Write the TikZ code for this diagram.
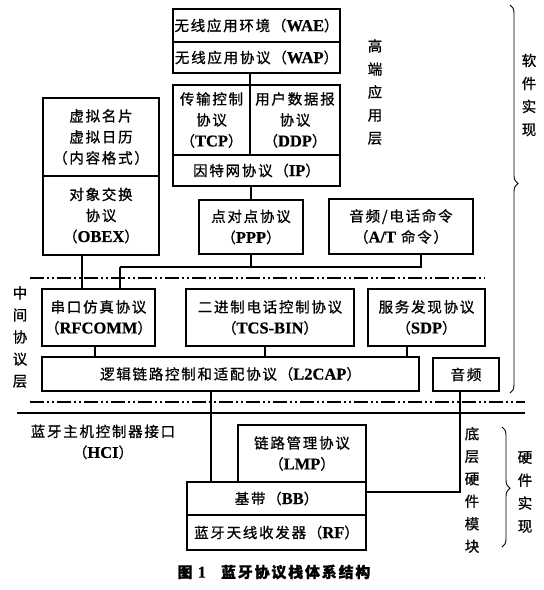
\documentclass[tikz,border=0pt]{standalone}
\usepackage{fontspec}
\setmainfont{Noto Sans CJK SC}[LetterSpace=12, FakeBold=0.8]
\newfontfamily\latfont{Liberation Serif}[FakeBold=0.6]
\newcommand{\lat}[1]{{\latfont\bfseries\fontsize{16.5}{21}\selectfont #1}}
\usetikzlibrary{decorations.pathreplacing}

\begin{document}
\begin{tikzpicture}[x=1pt, y=-1pt, line width=1.1pt,
	every node/.style={font=\fontsize{14.5}{21}\selectfont, align=center, inner sep=0pt, outer sep=0pt},
	blk/.style={draw},
	vtxt/.style={font=\fontsize{14.5}{23}\selectfont},
	sep/.style={line width=1.4pt, dash pattern=on 14pt off 3pt on 2pt off 3pt on 2pt off 3pt},
	brc/.style={decorate, decoration={brace, amplitude=8pt, aspect=#1}, line width=0.9pt}]
	\useasboundingbox (0,0) rectangle (544,590);
	% high-level application layer
	\node[blk, minimum width=167pt, minimum height=33pt] (wae) at (256.5,25.5) {无线应用环境（\lat{WAE}）};
	\node[blk, minimum width=167pt, minimum height=31pt] (wap) at (256.5,57.5) {无线应用协议（\lat{WAP}）};
	\node[blk, minimum width=77pt, minimum height=70pt] (tcp) at (211.5,120) {传输控制\\协议\\（\lat{TCP}）};
	\node[blk, minimum width=90pt, minimum height=70pt] (ddp) at (295,120) {用户数据报\\协议\\（\lat{DDP}）};
	\node[blk, minimum width=167pt, minimum height=31pt] (ip) at (256.5,170.5) {因特网协议（\lat{IP}）};
	\node[blk, minimum width=116pt, minimum height=78pt] (vcard) at (101,137) {虚拟名片\\虚拟日历\\（内容格式）};
	\node[blk, minimum width=116pt, minimum height=79pt] (obex) at (101,215.5) {对象交换\\协议\\（\lat{OBEX}）};
	\node[blk, minimum width=104pt, minimum height=54pt] (ppp) at (251,227) {点对点协议\\（\lat{PPP}）};
	\node[blk, minimum width=144pt, minimum height=55pt] (at) at (401,226.5) {音频/电话命令\\（\lat{A/T} 命令）};
	% middle protocol layer
	\node[blk, minimum width=113pt, minimum height=57pt] (rfcomm) at (98.5,317.5) {串口仿真协议\\（\lat{RFCOMM}）};
	\node[blk, minimum width=168pt, minimum height=57pt] (tcs) at (270,317.5) {二进制电话控制协议\\（\lat{TCS-BIN}）};
	\node[blk, minimum width=117pt, minimum height=57pt] (sdp) at (426.5,317.5) {服务发现协议\\（\lat{SDP}）};
	\node[blk, minimum width=377pt, minimum height=34pt] (l2cap) at (230.5,374) {逻辑链路控制和适配协议（\lat{L2CAP}）};
	\node[blk, minimum width=66pt, minimum height=33pt] (audio) at (466,374.5) {音频};
	% hardware
	\node[blk, minimum width=128pt, minimum height=57pt] (lmp) at (302,453.5) {链路管理协议\\（\lat{LMP}）};
	\node[blk, minimum width=179pt, minimum height=33pt] (bb) at (276.5,498.5) {基带（\lat{BB}）};
	\node[blk, minimum width=179pt, minimum height=35pt] (rf) at (276.5,532.5) {蓝牙天线收发器（\lat{RF}）};
	% connectors
	\coordinate (bus1) at (120,267);
	\coordinate (bus2) at (421,267);
	\coordinate (hw) at (460,492);
	\draw (wap.south -| tcp.north east) -- (tcp.north east);
	\draw (ip.south -| ppp.north) -- (ppp.north);
	\draw (ppp.south) -- (ppp.south |- bus1);
	\draw (bus1) -- (bus2) -- (bus2 |- at.south);
	\draw (bus1) -- (bus1 |- rfcomm.north);
	\draw (obex.south -| 82,0) -- (rfcomm.north -| 82,0);
	\draw (rfcomm.south -| 95,0) -- (l2cap.north -| 95,0);
	\draw (tcs.south -| 265,0) -- (l2cap.north -| 265,0);
	\draw (sdp.south -| 407,0) -- (l2cap.north -| 407,0);
	\draw (l2cap.south -| 211,0) -- (bb.north -| 211,0);
	\draw (audio.south -| hw) -- (hw) -- (hw -| bb.east);
	% layer boundaries
	\draw[sep] (30,278) -- (485,278);
	\draw[sep] (30,402) -- (525,402);
	\draw[line width=1.6pt] (17,413) -- (525,413);
	% labels
	\node (hci) at (103,442) {蓝牙主机控制器接口\\（\lat{HCI}）};
	\node[vtxt] (high) at (375,92) {高\\端\\应\\用\\层};
	\node[vtxt, font=\fontsize{14.5}{22}\selectfont] (mid) at (20,337) {中\\间\\协\\议\\层};
	\node[vtxt, font=\fontsize{14.5}{22.5}\selectfont] (low) at (472,490) {底\\层\\硬\\件\\模\\块};
	\node[vtxt] (soft) at (529,95) {软\\件\\实\\现};
	\node[vtxt] (hard) at (525,492) {硬\\件\\实\\现};
	\draw[brc=0.46] (510,5) -- (510,393);
	\draw[brc=0.51] (502,427) -- (502,547);
	\node[font=\fontsize{15}{18}\selectfont\bfseries] (cap) at (274,572) {图 \lat{1}\quad 蓝牙协议栈体系结构};
\end{tikzpicture}
\end{document}
